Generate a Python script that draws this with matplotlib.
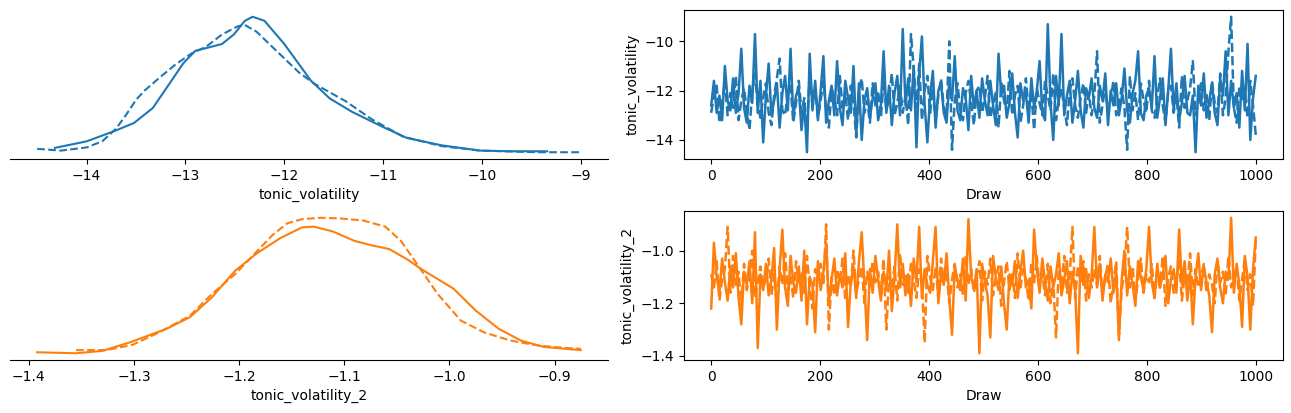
import numpy as np
import matplotlib.pyplot as plt

# densidad (kde), cadena 0 = linea continua, cadena 1 = discontinua
kde1_x_c0 = [-14.32, -14.0, -13.72, -13.52, -13.33, -13.17, -13.02, -12.90, -12.79, -12.63,
             -12.51, -12.40, -12.32, -12.20, -12.0, -11.73, -11.54, -11.31, -11.0, -10.76,
             -10.41, -10.02, -9.70, -9.34]
kde1_y_c0 = [0.037, 0.085, 0.16, 0.22, 0.33, 0.50, 0.66, 0.75, 0.77, 0.80,
             0.87, 0.97, 1.0, 0.97, 0.80, 0.53, 0.40, 0.30, 0.19, 0.11,
             0.056, 0.017, 0.012, 0.012]
kde1_x_c1 = [-14.50, -14.26, -14.0, -13.84, -13.70, -13.60, -13.50, -13.41, -13.25, -13.10, -12.94,
             -12.79, -12.63, -12.47, -12.40, -12.28, -12.08, -11.85, -11.70, -11.38, -11.11,
             -10.80, -10.41, -10.02, -9.44, -9.0]
kde1_y_c1 = [0.03, 0.017, 0.04, 0.086, 0.18, 0.28, 0.39, 0.46, 0.56, 0.65, 0.73,
             0.78, 0.87, 0.93, 0.94, 0.89, 0.75, 0.59, 0.51, 0.38, 0.245,
             0.12, 0.05, 0.017, 0.005, 0.005]

kde2_x_c0 = [-1.392, -1.355, -1.330, -1.303, -1.269, -1.247, -1.226, -1.204, -1.183, -1.161,
             -1.140, -1.129, -1.111, -1.090, -1.075, -1.057, -1.039, -1.028, -0.996, -0.975,
             -0.953, -0.932, -0.910, -0.875]
kde2_y_c0 = [0.014, 0.007, 0.024, 0.089, 0.186, 0.27, 0.415, 0.61, 0.74, 0.85,
             0.93, 0.935, 0.90, 0.83, 0.80, 0.77, 0.69, 0.63, 0.48, 0.32,
             0.186, 0.10, 0.053, 0.03]
kde2_x_c1 = [-1.355, -1.326, -1.301, -1.276, -1.247, -1.226, -1.204, -1.186, -1.168, -1.154,
             -1.140, -1.122, -1.104, -1.082, -1.061, -1.046, -1.028, -1.011, -0.989, -0.967,
             -0.942, -0.917, -0.889, -0.875]
kde2_y_c1 = [0.03, 0.03, 0.07, 0.16, 0.28, 0.44, 0.585, 0.73, 0.875, 0.96,
             0.99, 1.0, 0.995, 0.98, 0.935, 0.83, 0.63, 0.44, 0.246, 0.16,
             0.10, 0.065, 0.045, 0.04]

# trazas (una muestra cada 5 iteraciones)
traza1_c0 = [
    -12.6, -11.6, -12.9, -12.2, -13.2, -11.0, -12.4, -12.8, -11.5, -12.9, -12.1, -10.3, -12.7, -13.3, -11.8, -12.5, -9.7, -12.9, -11.6, -14.1,
    -12.2, -10.9, -13.0, -12.4, -11.7, -13.5, -12.1, -11.4, -12.8, -10.3, -13.1, -12.2, -11.9, -13.6, -12.5, -14.5, -10.5, -12.8, -11.6, -13.2,
    -12.0, -10.6, -13.3, -12.4, -11.8, -13.0, -10.8, -12.7, -13.4, -11.6, -12.3, -12.9, -11.0, -13.8, -11.7, -14.0, -12.4, -11.9, -13.1, -12.3,
    -11.7, -13.2, -12.6, -10.4, -12.9, -11.8, -13.4, -12.1, -11.4, -13.0, -9.5, -12.6, -11.5, -12.8, -11.0, -14.3, -11.3, -9.8, -12.6, -14.1,
    -12.2, -11.2, -13.5, -12.0, -11.7, -12.9, -13.3, -11.6, -12.4, -10.6, -12.8, -13.2, -11.9, -12.3, -13.6, -11.4, -12.7, -12.0, -13.1, -11.5,
    -12.4, -13.0, -11.6, -12.6, -13.4, -10.5, -12.2, -11.8, -13.1, -12.5, -11.3, -12.9, -13.9, -11.7, -12.4, -12.1, -13.3, -11.5, -12.7, -12.0,
    -10.8, -12.9, -13.2, -9.3, -12.5, -14.0, -11.4, -12.6, -9.7, -13.0, -12.2, -11.6, -13.3, -12.4, -11.2, -12.8, -13.5, -11.9, -12.3, -11.5,
    -12.7, -13.1, -11.8, -12.4, -11.3, -13.4, -12.0, -12.6, -11.7, -13.0, -12.3, -11.1, -12.8, -13.3, -12.1, -11.6, -10.4, -12.9, -13.2, -12.2,
    -11.9, -12.7, -10.6, -13.1, -12.3, -11.5, -13.4, -12.0, -10.3, -12.8, -11.7, -13.2, -12.5, -11.4, -12.9, -13.0, -12.2, -14.5, -11.8, -12.6,
    -11.3, -13.1, -12.4, -11.7, -12.9, -13.4, -11.5, -12.2, -10.4, -13.0, -11.6, -12.7, -12.1, -13.5, -11.2, -12.8, -10.1, -14.0, -12.3, -11.4,
]
traza1_c1 = [
    -12.9, -12.2, -11.8, -13.3, -12.5, -11.6, -13.0, -12.1, -12.7, -11.4, -13.2, -12.4, -11.9, -12.8, -13.6, -12.0, -11.3, -12.6, -13.1, -12.3,
    -11.7, -12.9, -13.4, -12.2, -11.5, -10.7, -12.8, -13.0, -12.1, -11.8, -13.3, -12.5, -11.6, -12.9, -12.3, -13.7, -11.2, -12.6, -12.0, -13.1,
    -12.4, -11.6, -12.8, -13.5, -11.9, -12.3, -13.0, -11.4, -12.7, -12.1, -13.2, -11.8, -12.5, -13.9, -12.0, -11.5, -12.9, -12.4, -13.3, -11.7,
    -12.6, -12.0, -13.1, -11.6, -12.8, -12.3, -11.3, -13.0, -12.5, -11.8, -12.9, -12.2, -13.4, -9.7, -11.1, -12.7, -10.9, -13.2, -12.0, -11.4,
    -12.9, -11.9, -13.3, -12.2, -11.5, -12.7, -13.0, -10.0, -14.4, -12.4, -11.7, -12.8, -13.2, -12.1, -11.6, -12.5, -13.4, -12.0, -11.8, -12.9,
    -12.3, -11.4, -13.1, -12.6, -12.0, -13.5, -11.7, -12.4, -12.9, -11.2, -13.0, -12.2, -11.8, -13.3, -12.6, -11.5, -12.8, -12.1, -13.6, -11.9,
    -12.5, -13.0, -11.6, -12.2, -12.8, -11.3, -13.2, -12.4, -11.9, -12.7, -13.4, -12.0, -11.5, -12.6, -13.1, -12.3, -11.7, -12.9, -12.1, -13.0,
    -12.2, -10.4, -13.3, -12.6, -11.8, -12.9, -12.3, -11.6, -13.0, -12.5, -11.9, -12.7, -14.4, -11.4, -12.8, -12.1, -13.2, -11.7, -12.4, -12.9,
    -11.6, -12.8, -13.1, -12.3, -11.5, -12.6, -13.3, -12.0, -11.8, -12.9, -12.2, -13.5, -11.4, -12.7, -12.4, -11.9, -10.8, -13.0, -12.5, -11.7,
    -12.8, -12.1, -13.2, -11.6, -12.5, -12.9, -11.3, -13.0, -12.3, -10.4, -9.0, -12.7, -13.3, -11.8, -12.4, -12.0, -13.1, -11.6, -12.6, -13.8,
]
traza2_c0 = [
    -1.22, -0.97, -1.10, -1.16, -1.03, -1.12, -1.19, -1.06, -1.14, -1.01, -1.18, -1.28, -1.08, -1.13, -1.04, -1.20, -0.93, -1.37, -1.09, -1.15,
    -1.05, -1.17, -1.11, -0.99, -1.30, -1.07, -0.92, -1.14, -1.21, -1.02, -1.12, -1.16, -1.06, -1.19, -1.00, -1.28, -1.10, -1.13, -1.31, -1.04,
    -1.15, -1.08, -0.97, -1.20, -1.11, -1.03, -1.17, -1.09, -1.14, -1.01, -1.29, -1.12, -1.06, -1.18, -1.04, -0.93, -1.13, -1.34, -1.07, -1.16,
    -1.02, -1.11, -1.19, -1.08, -1.15, -1.00, -1.23, -1.10, -0.90, -1.14, -1.05, -1.17, -1.09, -1.21, -1.03, -1.12, -0.91, -1.18, -1.07, -1.13,
    -1.16, -1.04, -0.91, -1.20, -1.09, -1.13, -1.01, -1.18, -1.32, -1.06, -1.11, -1.15, -1.03, -1.19, -0.88, -1.10, -1.14, -1.07, -1.39, -1.05,
    -1.12, -1.17, -1.33, -1.02, -1.10, -1.15, -1.06, -1.20, -1.30, -1.09, -1.13, -1.04, -1.18, -1.08, -1.00, -1.14, -1.11, -1.22, -0.92, -1.07,
    -1.16, -1.03, -1.12, -1.19, -1.06, -1.14, -1.09, -1.01, -1.17, -1.11, -1.04, -1.20, -1.08, -1.15, -1.39, -1.02, -1.13, -1.07, -1.18, -1.10,
    -0.91, -1.14, -1.05, -1.19, -1.09, -1.12, -1.03, -1.16, -1.08, -1.34, -1.11, -1.00, -1.17, -1.06, -1.13, -1.21, -1.04, -1.10, -1.15, -1.07,
    -0.91, -1.12, -1.18, -1.05, -1.14, -1.09, -1.02, -1.20, -1.11, -1.07, -1.16, -0.92, -1.13, -1.04, -1.19, -1.08, -1.28, -1.10, -1.01, -1.15,
    -1.06, -1.12, -1.17, -1.31, -1.09, -1.03, -1.14, -1.20, -1.08, -1.11, -0.875, -1.16, -1.05, -1.13, -1.29, -1.02, -1.10, -1.30, -1.07, -0.95,
]
traza2_c1 = [
    -1.09, -1.14, -1.04, -1.19, -1.11, -1.07, -0.91, -1.16, -1.02, -1.13, -1.08, -1.21, -1.05, -1.15, -1.10, -1.00, -1.18, -1.12, -1.06, -1.14,
    -1.11, -1.03, -1.17, -1.09, -1.20, -1.06, -1.13, -1.01, -1.15, -1.10, -1.18, -1.04, -1.12, -1.08, -1.16, -1.02, -1.14, -1.22, -1.07, -1.11,
    -1.05, -1.13, -0.90, -1.30, -1.10, -1.17, -1.07, -1.12, -1.03, -1.19, -1.09, -1.14, -1.00, -1.16, -1.11, -1.06, -1.20, -1.08, -1.13, -1.04,
    -1.12, -1.08, -1.17, -1.03, -1.30, -1.10, -1.14, -1.06, -1.19, -1.01, -1.13, -1.09, -1.16, -1.05, -1.11, -1.18, -1.07, -1.12, -1.35, -1.02,
    -1.10, -1.15, -1.06, -1.18, -1.03, -1.12, -1.08, -1.20, -1.11, -1.05, -1.14, -1.09, -1.17, -1.02, -1.13, -1.07, -1.16, -1.10, -1.04, -1.19,
    -1.08, -1.13, -1.03, -1.17, -1.10, -1.06, -1.21, -1.12, -1.04, -1.15, -1.09, -1.18, -1.01, -1.14, -1.07, -1.11, -1.19, -1.05, -1.12, -1.02,
    -1.14, -1.09, -1.17, -1.05, -1.20, -1.11, -1.33, -1.07, -1.13, -1.02, -1.16, -1.10, -0.91, -1.18, -1.06, -1.12, -1.04, -1.19, -1.09, -1.14,
    -1.07, -1.13, -1.02, -1.17, -1.10, -1.05, -1.20, -1.12, -1.04, -1.32, -1.15, -1.08, -0.91, -1.14, -1.06, -1.19, -1.11, -1.03, -1.16, -1.09,
    -1.12, -1.05, -1.18, -1.08, -1.14, -1.02, -1.21, -1.10, -1.06, -1.16, -1.11, -1.04, -1.19, -1.09, -1.13, -1.01, -1.17, -1.07, -1.14, -1.10,
    -1.05, -1.16, -1.09, -1.13, -1.20, -1.04, -1.12, -1.08, -1.17, -1.02, -1.14, -1.10, -1.06, -1.19, -1.11, -1.03, -1.15, -1.09, -1.21, -0.96,
]
nombres = ["tonic_volatility", "tonic_volatility_2"]

draws = np.linspace(0, 999, len(traza1_c0))

fig = plt.figure(figsize=(12.91, 4.13), dpi=100)
ax_kde1 = fig.add_axes([0.00775, 0.615, 0.4632, 0.3608])
ax_tr1 = fig.add_axes([0.5298, 0.615, 0.464, 0.3608])
ax_kde2 = fig.add_axes([0.00775, 0.1283, 0.4632, 0.3608])
ax_tr2 = fig.add_axes([0.5298, 0.1283, 0.464, 0.3608])

filas = [
    (ax_kde1, ax_tr1, "C0", 0.55, kde1_x_c0, kde1_y_c0, kde1_x_c1, kde1_y_c1, traza1_c0, traza1_c1, nombres[0]),
    (ax_kde2, ax_tr2, "C1", 4.5, kde2_x_c0, kde2_y_c0, kde2_x_c1, kde2_y_c1, traza2_c0, traza2_c1, nombres[1]),
]
for ax_k, ax_t, color, escala, x0, y0, x1, y1, t0, t1, nombre in filas:
    ax_k.plot(x0, np.array(y0) * escala, color=color, lw=1.5)
    ax_k.plot(x1, np.array(y1) * escala, color=color, lw=1.5, ls="--")
    ax_k.set_yticks([])
    for s in ["left", "top", "right"]:
        ax_k.spines[s].set_visible(False)
    ax_k.set_xlabel(nombre)

    ax_t.plot(draws, t0, color=color, lw=1.8)
    ax_t.plot(draws, t1, color=color, lw=1.8, ls="--")
    ax_t.set_xlabel("Draw")
    ax_t.set_ylabel(nombre)

ax_kde2.set_xticks([-1.4, -1.3, -1.2, -1.1, -1.0, -0.9])
ax_tr2.set_yticks([-1.4, -1.2, -1.0])

plt.savefig("out.png", dpi=100)
